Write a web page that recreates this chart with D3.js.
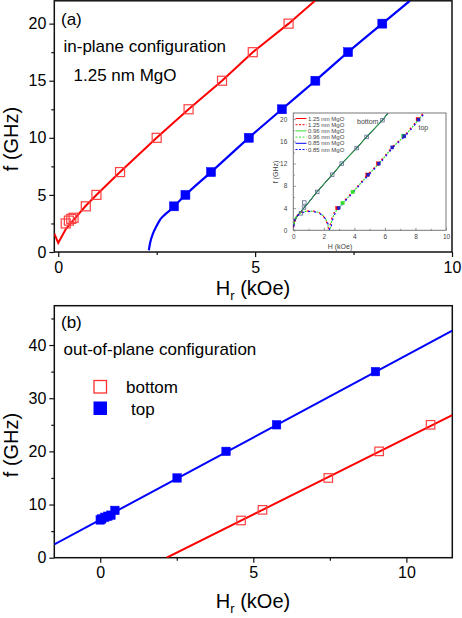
<!DOCTYPE html>
<html>
<head>
<meta charset="utf-8">
<script src="https://cdn.jsdelivr.net/npm/d3@7"></script>
<style>
  body { margin: 0; background: #fff; }
  svg { display: block; font-family: Arial, "Liberation Sans", sans-serif; }
</style>
</head>
<body>
<div id="chart"></div>
<script>
////////////////////////////////////////////////////////////////////////////////
// Data

// (a) in-plane, 1.25 nm MgO : [H (kOe), f (GHz)]
var a_bottom_pts = [[0.19, 2.5], [0.27, 2.75], [0.33, 2.9], [0.39, 3.0], [0.7, 4], [0.97, 5],
                    [1.57, 7], [2.5, 10], [3.31, 12.5], [4.16, 15], [4.94, 17.5], [5.85, 20]];
var a_top_pts    = [[2.94, 4], [3.23, 5], [3.88, 7], [4.84, 10], [5.68, 12.5], [6.53, 15],
                    [7.36, 17.5], [8.23, 20]];
var a_bottom_fit = [[-0.1, 1.6], [0, 0.8], [0.2, 2.05], [0.45, 3.05], [0.7, 4.05], [1.0, 5.1],
                    [1.57, 7.0], [2.5, 10.0], [3.31, 12.5], [4.16, 15.0], [4.94, 17.5],
                    [5.85, 20.0], [6.52, 22.0]];
var a_top_fit    = [[2.30, 0.15], [2.34, 0.9], [2.41, 1.65], [2.5, 2.3], [2.58, 2.8], [2.7, 3.25],
                    [2.82, 3.6], [2.94, 4.0], [3.23, 5.0], [3.88, 7.0], [4.84, 10.0], [5.68, 12.5],
                    [6.53, 15.0], [7.36, 17.5], [8.23, 20.0], [8.93, 22.0]];

// (a) inset, three MgO thicknesses
var inset_labels = ["1.25 nm MgO", "1.25 nm MgO", "0.96 nm MgO", "0.96 nm MgO", "0.85 nm MgO", "0.85 nm MgO"];
var inset_bottom_fit = [[0, 0.5], [0.08, 1.5], [0.2, 2.3], [0.45, 3.2], [0.75, 4.2], [1.0, 5.0],
                        [1.55, 6.9], [2.55, 10], [3.17, 12], [4.15, 14.8], [4.8, 16.8],
                        [5.84, 19.8], [6.18, 21]];
var inset_top_red   = [[0, 0.5], [0.15, 2.3], [0.4, 3.1], [0.8, 3.45], [1.2, 3.5], [1.6, 3.3],
                       [1.9, 2.8], [2.15, 1.8], [2.3, 0.3], [2.36, 0.3], [2.48, 1.8], [2.68, 3.2],
                       [2.93, 4], [3.23, 5], [3.9, 7], [4.87, 10], [5.57, 12], [6.48, 15],
                       [7.27, 17], [8.19, 20], [8.5, 21]];
var inset_top_green = [[0, 0.4], [0.12, 2.2], [0.38, 3.0], [0.8, 3.4], [1.2, 3.45], [1.62, 3.25],
                       [1.93, 2.7], [2.18, 1.7], [2.34, 0.2], [2.4, 0.2], [2.52, 1.8], [2.72, 3.2],
                       [2.97, 4], [3.27, 5], [3.94, 7], [4.91, 10], [5.61, 12], [6.52, 15],
                       [7.31, 17], [8.23, 20], [8.54, 21]];
var inset_top_blue  = [[0, 0.3], [0.1, 2.1], [0.36, 2.9], [0.78, 3.35], [1.18, 3.4], [1.64, 3.2],
                       [1.96, 2.6], [2.22, 1.6], [2.38, 0.1], [2.44, 0.1], [2.56, 1.8], [2.76, 3.2],
                       [3.01, 4], [3.31, 5], [3.98, 7], [4.95, 10], [5.65, 12], [6.56, 15],
                       [7.35, 17], [8.27, 20], [8.58, 21]];
var inset_bottom_pts = [[0.5, 3.05], [0.7, 4.1], [0.72, 5.0], [1.57, 6.9], [2.55, 10], [3.17, 12],
                        [4.15, 14.8], [4.8, 16.8], [5.84, 19.8]];
var inset_pts_red   = [[2.88, 4.0], [4.85, 10], [5.55, 12], [8.15, 20]];
var inset_pts_green = [[3.23, 4.9], [3.89, 6.9], [7.2, 17]];
var inset_pts_blue  = [[2.97, 4.0], [4.9, 10], [5.6, 12], [6.48, 14.9], [7.27, 16.9], [8.2, 19.9]];

// (b) out-of-plane
var b_bottom_pts = [[4.6, 7], [5.3, 9], [7.45, 15], [9.11, 20], [10.79, 25]];
var b_top_pts    = [[0, 7.1], [0.05, 7.3], [0.15, 7.6], [0.25, 7.8], [0.35, 8.0], [0.48, 8.9],
                    [2.51, 15], [4.11, 20], [5.76, 25], [8.99, 35]];
var b_bottom_fit = [[2.17, 0], [11.5, 26.8]];
var b_top_fit    = [[-1.5, 2.5], [11.5, 42.7]];

var a_x_ticks = [0, 5, 10], a_x_minor = [2.5, 7.5];
var a_y_ticks = [0, 5, 10, 15, 20], a_y_minor = [2.5, 7.5, 12.5, 17.5];
var in_x_ticks = [0, 2, 4, 6, 8, 10], in_x_minor = [1, 3, 5, 7, 9];
var in_y_ticks = [0, 4, 8, 12, 16, 20], in_y_minor = [2, 6, 10, 14, 18];
var b_x_ticks = [0, 5, 10], b_x_minor = [2.5, 7.5];
var b_y_ticks = [0, 10, 20, 30, 40], b_y_minor = [5, 15, 25, 35, 45];

////////////////////////////////////////////////////////////////////////////////
// Setup

var RED = "#ff0000", BLUE = "#0000ff", GREEN = "#33dd33";
var width = 462, height = 618;

var svg = d3.select("#chart").append("svg")
    .attr("width", width).attr("height", height);

var defs = svg.append("defs");

function make_axes(g, x, y, opt) {
  var xa = d3.axisBottom(x).tickValues(opt.xt).tickSize(opt.major).tickPadding(opt.xpad)
      .tickFormat(d3.format("d"));
  var xm = d3.axisBottom(x).tickValues(opt.xm).tickSize(opt.minor).tickFormat("");
  var ya = d3.axisLeft(y).tickValues(opt.yt).tickSize(opt.major).tickPadding(opt.ypad)
      .tickFormat(d3.format("d"));
  var ym = d3.axisLeft(y).tickValues(opt.ym).tickSize(opt.minor).tickFormat("");
  var y0 = y.range()[0];
  var all = [
    g.append("g").attr("transform", "translate(0," + y0 + ")").call(xa),
    g.append("g").attr("transform", "translate(0," + y0 + ")").call(xm),
    g.append("g").attr("transform", "translate(" + x.range()[0] + ",0)").call(ya),
    g.append("g").attr("transform", "translate(" + x.range()[0] + ",0)").call(ym)
  ];
  all.forEach(function(a) {
    a.select(".domain").remove();
    a.selectAll("line").attr("stroke", opt.color).attr("stroke-width", opt.tw);
    a.selectAll("text").attr("font-size", opt.fs).attr("fill", opt.tcolor)
      .attr("font-family", "Arial, 'Liberation Sans', sans-serif");
  });
  // frame
  g.append("rect")
    .attr("x", x.range()[0]).attr("y", y.range()[1])
    .attr("width", x.range()[1] - x.range()[0])
    .attr("height", y.range()[0] - y.range()[1])
    .attr("fill", "none").attr("stroke", opt.color).attr("stroke-width", opt.fw);
}

function clip(id, x, y) {
  defs.append("clipPath").attr("id", id).append("rect")
    .attr("x", x.range()[0]).attr("y", y.range()[1])
    .attr("width", x.range()[1] - x.range()[0])
    .attr("height", y.range()[0] - y.range()[1]);
}

function squares(g, data, x, y, size, fill, stroke, sw) {
  g.selectAll(null).data(data).enter().append("rect")
    .attr("x", function(d) { return x(d[0]) - size / 2; })
    .attr("y", function(d) { return y(d[1]) - size / 2; })
    .attr("width", size).attr("height", size)
    .attr("fill", fill).attr("stroke", stroke).attr("stroke-width", sw);
}

function line_of(x, y, curve) {
  return d3.line().x(function(d) { return x(d[0]); }).y(function(d) { return y(d[1]); })
    .curve(curve || d3.curveLinear);
}

function x_title(g, cx, baseline) {
  var t = g.append("text").attr("x", cx).attr("y", baseline)
    .attr("text-anchor", "middle").attr("font-size", 20);
  t.append("tspan").text("H");
  t.append("tspan").attr("font-size", 13).attr("dy", 5).text("r");
  t.append("tspan").attr("dy", -5).text(" (kOe)");
}

function y_title(g, cx, cy) {
  g.append("text").attr("transform", "translate(" + cx + "," + cy + ") rotate(-90)")
    .attr("text-anchor", "middle").attr("dy", "0.35em").attr("font-size", 20)
    .text("f (GHz)");
}

////////////////////////////////////////////////////////////////////////////////
// Panel (a)

var xa = d3.scaleLinear().domain([-0.1, 10]).range([54.3, 452]);
var ya = d3.scaleLinear().domain([0, 22]).range([252, 0.8]);
var ga = svg.append("g");
clip("clip_a", xa, ya);

make_axes(ga, xa, ya, { xt: a_x_ticks, xm: a_x_minor, yt: a_y_ticks, ym: a_y_minor,
  major: 5, minor: 3, xpad: 5, ypad: 3, fs: 16, color: "#111", tcolor: "#000", tw: 1.2, fw: 1.5 });

var pa = ga.append("g").attr("clip-path", "url(#clip_a)");
pa.append("path").datum(a_bottom_fit).attr("d", line_of(xa, ya))
  .attr("fill", "none").attr("stroke", RED).attr("stroke-width", 2);
pa.append("path").datum(a_top_fit).attr("d", line_of(xa, ya, d3.curveMonotoneX))
  .attr("fill", "none").attr("stroke", BLUE).attr("stroke-width", 2.2);
squares(pa, a_bottom_pts, xa, ya, 9, "none", "#ff4040", 1.2);
squares(pa, a_top_pts, xa, ya, 9, BLUE, BLUE, 0.5);

ga.append("text").attr("x", 61).attr("y", 25).attr("font-size", 17).text("(a)");
ga.append("text").attr("x", 63.5).attr("y", 51.5).attr("font-size", 17).text("in-plane configuration");
ga.append("text").attr("x", 73.5).attr("y", 81).attr("font-size", 17).text("1.25 nm MgO");
x_title(ga, 253, 295);
y_title(ga, 11, 139);

// Inset
var xi = d3.scaleLinear().domain([0, 10]).range([293.3, 446]);
var yi = d3.scaleLinear().domain([0, 21.1]).range([230.3, 113]);
var gi = ga.append("g");
clip("clip_i", xi, yi);
gi.append("rect").attr("x", xi.range()[0]).attr("y", yi.range()[1])
  .attr("width", xi.range()[1] - xi.range()[0]).attr("height", yi.range()[0] - yi.range()[1])
  .attr("fill", "#fff");

make_axes(gi, xi, yi, { xt: in_x_ticks, xm: in_x_minor, yt: in_y_ticks, ym: in_y_minor,
  major: -2.5, minor: -1.5, xpad: 4, ypad: 6, fs: 6.5, color: "#777", tcolor: "#444", tw: 0.8, fw: 1 });

var pi = gi.append("g").attr("clip-path", "url(#clip_i)");
[[RED, inset_bottom_fit], [BLUE, inset_bottom_fit]].forEach(function(s) {
  pi.append("path").datum(s[1]).attr("d", line_of(xi, yi))
    .attr("fill", "none").attr("stroke", s[0]).attr("stroke-width", 1);
});
pi.append("path").datum(inset_bottom_fit).attr("d", line_of(xi, yi))
  .attr("fill", "none").attr("stroke", "#229a3c").attr("stroke-width", 1.1);
[[RED, inset_top_red, 0], [GREEN, inset_top_green, 2], [BLUE, inset_top_blue, 4]].forEach(function(s) {
  pi.append("path").datum(s[1]).attr("d", line_of(xi, yi))
    .attr("fill", "none").attr("stroke", s[0]).attr("stroke-width", 1.2)
    .attr("stroke-dasharray", "2,4").attr("stroke-dashoffset", s[2]);
});
squares(pi, inset_bottom_pts, xi, yi, 3.5, "none", "#5a6a8c", 0.8);
squares(pi, inset_pts_green, xi, yi, 3.5, GREEN, GREEN, 0.3);
squares(pi, inset_pts_red, xi, yi, 3.5, RED, RED, 0.3);
squares(pi, inset_pts_blue, xi, yi, 3.2, "#2020c0", "#2020c0", 0.3);

// inset legend
var leg_colors = [RED, RED, GREEN, GREEN, BLUE, BLUE];
var leg = gi.append("g");
inset_labels.forEach(function(lab, i) {
  var ly = 118.5 + i * 6.2;
  leg.append("line").attr("x1", 295.5).attr("x2", 306.5).attr("y1", ly).attr("y2", ly)
    .attr("stroke", leg_colors[i]).attr("stroke-width", 1)
    .attr("stroke-dasharray", i % 2 ? "2,1.5" : null);
  leg.append("text").attr("x", 308).attr("y", ly).attr("dy", "0.35em")
    .attr("font-size", 6).attr("fill", "#444").text(lab);
});
gi.append("text").attr("x", 357).attr("y", 123.5).attr("font-size", 7).attr("fill", "#444").text("bottom");
gi.append("text").attr("x", 418.5).attr("y", 130).attr("font-size", 7).attr("fill", "#444").text("top");
gi.append("text").attr("x", 340).attr("y", 249).attr("text-anchor", "middle")
  .attr("font-size", 7).attr("fill", "#444").text("H (kOe)");
gi.append("text").attr("transform", "translate(276,172) rotate(-90)")
  .attr("text-anchor", "middle").attr("dy", "0.35em").attr("font-size", 7).attr("fill", "#444")
  .text("f (GHz)");

////////////////////////////////////////////////////////////////////////////////
// Panel (b)

var xb = d3.scaleLinear().domain([-1.5, 11.5]).range([54.3, 452.3]);
var yb = d3.scaleLinear().domain([0, 47.4]).range([557.7, 305.7]);
var gb = svg.append("g");
clip("clip_b", xb, yb);

make_axes(gb, xb, yb, { xt: b_x_ticks, xm: b_x_minor, yt: b_y_ticks, ym: b_y_minor,
  major: 5, minor: 3, xpad: 4, ypad: 3, fs: 16, color: "#111", tcolor: "#000", tw: 1.2, fw: 1.5 });

var pb = gb.append("g").attr("clip-path", "url(#clip_b)");
pb.append("path").datum(b_top_fit).attr("d", line_of(xb, yb))
  .attr("fill", "none").attr("stroke", BLUE).attr("stroke-width", 2);
pb.append("path").datum(b_bottom_fit).attr("d", line_of(xb, yb))
  .attr("fill", "none").attr("stroke", RED).attr("stroke-width", 2);
squares(pb, b_bottom_pts, xb, yb, 8.5, "none", "#ff4040", 1.2);
squares(pb, b_top_pts, xb, yb, 8.5, BLUE, BLUE, 0.5);

gb.append("text").attr("x", 61).attr("y", 328).attr("font-size", 17).text("(b)");
gb.append("text").attr("x", 63.5).attr("y", 355).attr("font-size", 17).text("out-of-plane configuration");

// legend
gb.append("rect").attr("x", 94).attr("y", 380.5).attr("width", 12.5).attr("height", 12.5)
  .attr("fill", "none").attr("stroke", "#ff3030").attr("stroke-width", 1.3);
gb.append("text").attr("x", 126).attr("y", 393).attr("font-size", 17).text("bottom");
gb.append("rect").attr("x", 93.5).attr("y", 401.5).attr("width", 13.5).attr("height", 13.5)
  .attr("fill", BLUE);
gb.append("text").attr("x", 131).attr("y", 414.5).attr("font-size", 17).text("top");

x_title(gb, 253, 608);
y_title(gb, 11, 445);
</script>
</body>
</html>
